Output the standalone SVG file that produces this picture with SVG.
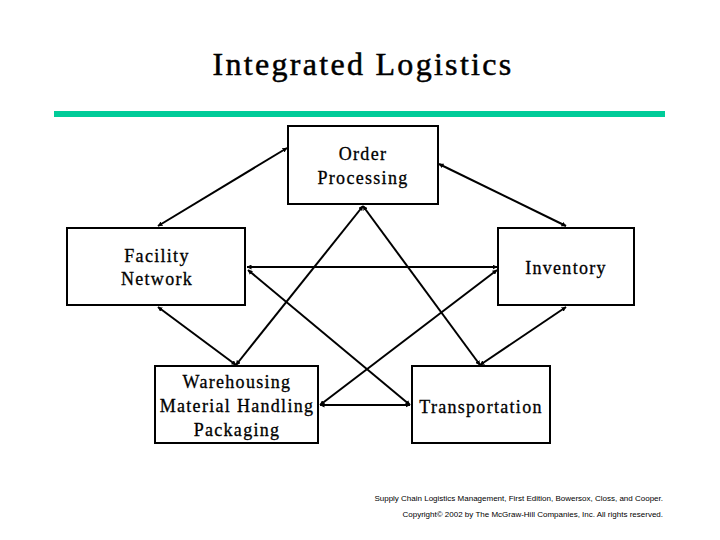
<svg xmlns="http://www.w3.org/2000/svg" width="720" height="540" viewBox="0 0 720 540">
<style>
.box{fill:#fff;stroke:#000;stroke-width:2}
.t{font-family:"Liberation Serif",serif;font-size:18px;letter-spacing:1.3px;text-anchor:middle;fill:#000;stroke:#000;stroke-width:0.3}
.c line{stroke:#000;stroke-width:2;marker-start:url(#a);marker-end:url(#a)}
.s{font-family:"Liberation Sans",sans-serif;font-size:8px;text-anchor:end;fill:#000}
</style>
<defs><marker id="a" viewBox="0 0 10 10" refX="9" refY="5" markerWidth="5" markerHeight="5" orient="auto-start-reverse" markerUnits="userSpaceOnUse"><path d="M0,0L10,5L0,10z" fill="#000"/></marker></defs>
<rect width="720" height="540" fill="#fff"/>
<text x="363" y="75" font-family="Liberation Serif,serif" font-size="32" letter-spacing="2.3" text-anchor="middle" stroke="#000" stroke-width="0.5">Integrated Logistics</text>
<rect x="54" y="111" width="611" height="6" fill="#00cc99"/>
<g class="c">
<line x1="287" y1="148" x2="158" y2="226"/>
<line x1="439" y1="164" x2="566" y2="226"/>
<line x1="363" y1="206" x2="236" y2="365"/>
<line x1="363" y1="206" x2="480" y2="365"/>
<line x1="247" y1="267" x2="497" y2="267"/>
<line x1="248" y1="270" x2="410" y2="405"/>
<line x1="497" y1="270" x2="320" y2="405"/>
<line x1="158" y1="307" x2="236" y2="365"/>
<line x1="566" y1="307" x2="480" y2="365"/>
<line x1="320" y1="405" x2="410" y2="405"/>
</g>
<g id="order"><rect class="box" x="288" y="126" width="150" height="78"/><text class="t" x="363" y="160">Order</text><text class="t" x="363" y="184">Processing</text></g>
<g id="facility"><rect class="box" x="67" y="228" width="178" height="77"/><text class="t" x="157" y="262">Facility</text><text class="t" x="157" y="285">Network</text></g>
<g id="inventory"><rect class="box" x="498" y="228" width="136" height="77"/><text class="t" x="566" y="274">Inventory</text></g>
<g id="warehousing"><rect class="box" x="155" y="366" width="163" height="77"/><text class="t" x="237" y="388">Warehousing</text><text class="t" x="237" y="412">Material Handling</text><text class="t" x="237" y="436">Packaging</text></g>
<g id="transportation"><rect class="box" x="412" y="366" width="138" height="77"/><text class="t" x="481" y="413">Transportation</text></g>
<text class="s" x="663" y="501">Supply Chain Logistics Management, First Edition, Bowersox, Closs, and Cooper.</text>
<text class="s" x="663" y="517">Copyright© 2002 by The McGraw-Hill Companies, Inc. All rights reserved.</text>
</svg>
